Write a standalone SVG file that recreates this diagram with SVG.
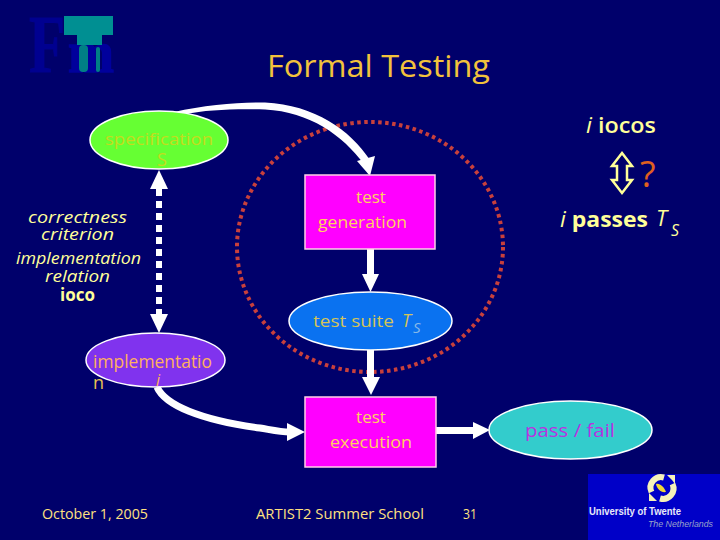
<svg xmlns="http://www.w3.org/2000/svg" width="720" height="540" viewBox="0 0 720 540">
<style>
text{font-family:"Open Sans","DejaVu Sans",sans-serif;}
.c{text-anchor:middle}
.i{font-style:italic}
.t{fill:#ffff99;font-style:italic;font-size:16.500px}
.box{fill:#ff00ff;stroke:#ffd0e8;stroke-width:1.5}
.el{stroke:#ffffff;stroke-width:1.5}
.lbl{fill:#ffd060;font-size:17px}
.foot{fill:#ffe080;font-size:15px}
.ar{fill:#ffffff}
.teal{fill:#008f92}
</style>
<rect width="720" height="540" fill="#00006b"/>
<g id="logo-fmt">
<text x="29" y="72" font-size="82" fill="#000090" stroke="#000090" stroke-width="1" textLength="36" lengthAdjust="spacingAndGlyphs" style="font-family:'Liberation Serif',serif;font-weight:bold">F</text>
<text x="68" y="72" font-size="60" fill="#00009c" stroke="#00009c" stroke-width="1.500" textLength="46" lengthAdjust="spacingAndGlyphs" style="font-family:'Liberation Serif',serif;font-weight:bold">m</text>
<rect class="teal" x="64" y="16" width="49" height="19"/>
<rect class="teal" x="77" y="35" width="25" height="10"/>
<rect x="79" y="45" width="9" height="27" rx="4" fill="#007f85"/>
<rect x="96" y="47" width="4" height="25" rx="2" fill="#007f85"/>
</g>
<text id="title" x="267" y="77" font-size="31" fill="#f2c23c" textLength="223" lengthAdjust="spacingAndGlyphs">Formal Testing</text>
<ellipse id="scope" cx="370" cy="247" rx="133" ry="125" fill="none" stroke="#c8403c" stroke-width="4" stroke-dasharray="3.5 3.5"/>
<g id="connectors">
<path class="ar" d="M174 112C205 105 240 102 265 102.500C315 105 350 130 370 160L364 164C342 135 310 112 265 109.500C235 108.500 205 110 186 114Z"/>
<path class="ar" d="M357 161L375 156L370 176Z"/>
<path d="M159 189V314" stroke="#ffffff" stroke-width="6" stroke-dasharray="7 5" fill="none"/>
<path class="ar" d="M159 170L168 189H150Z"/>
<path class="ar" d="M159 333L150 314H168Z"/>
<path class="ar" d="M367 249H374V274H379L370.500 292L362 274H367Z"/>
<path class="ar" d="M367 350H374V377H380L371 395L362 377H367Z"/>
<path d="M157 387C165 405 200 420 260 428C272 430 280 432 290 432" stroke="#ffffff" stroke-width="7" fill="none"/>
<path class="ar" d="M287 423L305 432L287 441Z"/>
<path class="ar" d="M436 427H473V422L490 430L473 439V434H436Z"/>
</g>
<g id="specification">
<ellipse class="el" cx="159" cy="140" rx="69" ry="29" fill="#66ff33"/>
<text x="105" y="145" font-size="16" fill="#c4dc1e" textLength="108" lengthAdjust="spacingAndGlyphs">specification</text>
<text class="c" x="162" y="166" font-size="18" fill="#c4dc1e">S</text>
</g>
<g id="relation-label">
<text class="t" x="28" y="223" textLength="99" lengthAdjust="spacingAndGlyphs">correctness</text>
<text class="t" x="41" y="240" textLength="73" lengthAdjust="spacingAndGlyphs">criterion</text>
<text class="t" x="16" y="264" textLength="125" lengthAdjust="spacingAndGlyphs">implementation</text>
<text class="t" x="45" y="282" textLength="65" lengthAdjust="spacingAndGlyphs">relation</text>
<text x="60" y="301" font-size="17" font-weight="bold" fill="#ffff99" textLength="35" lengthAdjust="spacingAndGlyphs">ioco</text>
</g>
<g id="test-generation">
<rect class="box" x="305" y="175" width="130" height="74"/>
<text class="c lbl" x="371" y="203">test</text>
<text class="lbl" x="318" y="228" textLength="89" lengthAdjust="spacingAndGlyphs">generation</text>
</g>
<g id="test-suite">
<ellipse class="el" cx="370.500" cy="321" rx="81.500" ry="29" fill="#0a72f0"/>
<text x="313" y="327" font-size="17" fill="#d4c458" textLength="81" lengthAdjust="spacingAndGlyphs">test suite</text>
<text class="i" x="402" y="327" font-size="18" fill="#d4c458">T</text>
<text class="i" x="413" y="333" font-size="15" fill="#88b8e8">S</text>
</g>
<g id="implementation">
<ellipse class="el" cx="155.500" cy="360" rx="69.500" ry="27" fill="#8033ee"/>
<text x="93" y="368" font-size="18" fill="#ffb060" textLength="119" lengthAdjust="spacingAndGlyphs">implementatio</text>
<text x="93" y="389" font-size="18" fill="#e8c050">n</text>
<text class="i" x="156" y="386" font-size="16" fill="#ffb060">i</text>
</g>
<g id="test-execution">
<rect class="box" x="305" y="397" width="131" height="70"/>
<text class="c lbl" x="371" y="423">test</text>
<text class="lbl" x="330" y="448" textLength="82" lengthAdjust="spacingAndGlyphs">execution</text>
</g>
<g id="pass-fail">
<ellipse class="el" cx="570.500" cy="430" rx="81.500" ry="29" fill="#33cccc"/>
<text x="525" y="437" font-size="18" fill="#b833e0" textLength="90" lengthAdjust="spacingAndGlyphs">pass / fail</text>
</g>
<g id="relations-right">
<text x="586" y="133" font-size="22" font-weight="600" fill="#ffff99" textLength="70" lengthAdjust="spacingAndGlyphs"><tspan font-style="italic" font-weight="normal">i</tspan> iocos</text>
<path d="M622 153L632 166H627V180H632L622 193L612 180H617V166H612Z" fill="none" stroke="#ffff99" stroke-width="2.500"/>
<text x="640" y="187" font-size="36" fill="#e0601e">?</text>
<text x="560" y="227" font-size="22" font-weight="bold" fill="#ffff99" textLength="88" lengthAdjust="spacingAndGlyphs"><tspan font-style="italic" font-weight="normal">i</tspan> passes</text>
<text class="i" x="656" y="226" font-size="22" fill="#ffff99">T</text>
<text class="i" x="671" y="236" font-size="16" fill="#ffff99">S</text>
</g>
<g id="footer">
<text class="foot" x="42" y="519" textLength="106" lengthAdjust="spacingAndGlyphs">October 1, 2005</text>
<text class="foot" x="256" y="519" textLength="168" lengthAdjust="spacingAndGlyphs">ARTIST2 Summer School</text>
<text class="foot" x="463" y="519" textLength="14" lengthAdjust="spacingAndGlyphs">31</text>
</g>
<g id="logo-ut">
<rect x="588" y="474" width="132" height="66" fill="#0000c8"/>
<g fill="none" stroke="#f6f2b8" stroke-width="6">
<path d="M651.500 492A10.500 10.500 0 0 1 664 477.500"/>
<path d="M672.500 484A10.500 10.500 0 0 1 660 498.500"/>
</g>
<path d="M667 475H675V484L672 480Z" fill="#f6f2b8"/>
<path d="M649 493L653 497L657 501H649Z" fill="#f6f2b8"/>
<path d="M656 484C660 483 664 487 666 492C661 493 657 489 656 484Z" fill="#f0d838"/>
<text x="589" y="515" font-size="10" font-weight="bold" fill="#e8e8f8" style="font-family:'Liberation Sans',sans-serif" textLength="92" lengthAdjust="spacingAndGlyphs">University of Twente</text>
<text x="648" y="527" font-size="9" fill="#9aa4c8" font-style="italic" style="font-family:'Liberation Sans',sans-serif" textLength="65" lengthAdjust="spacingAndGlyphs">The Netherlands</text>
</g>
</svg>
